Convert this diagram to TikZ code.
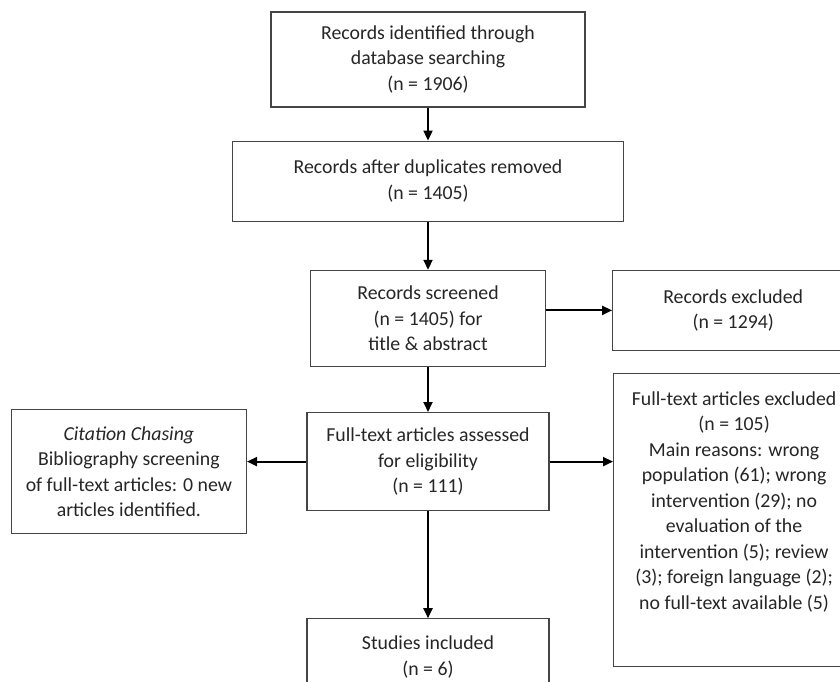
\documentclass[tikz,border=0pt]{standalone}
\usepackage{fontspec}
\setmainfont{Carlito}
\usetikzlibrary{arrows.meta,positioning}
\definecolor{boxgray}{HTML}{454545}
\definecolor{textgray}{HTML}{262626}

\begin{document}
\begin{tikzpicture}[
  x=1pt, y=-1pt,
  box/.style={draw=boxgray, line width=1.2pt, fill=white, align=center, text=textgray, inner sep=4pt, font=\fontsize{19.8}{25.5}\selectfont},
  edge/.style={-{Triangle[length=10pt,width=9pt]}, line width=1.9pt}
]
\useasboundingbox (0,0) rectangle (840,682);
\clip (0,0) rectangle (840,682);
\node[box, minimum width=314pt, minimum height=95pt] (ident) at (428,59.5) {Records identified through\\database searching\\(n = 1906)};
\node[box, minimum width=391pt, minimum height=80pt, below=33pt of ident] (dup) {Records after duplicates removed\\(n = 1405)};
\node[box, minimum width=235pt, minimum height=96pt, below=48pt of dup] (screen) {Records screened\\(n = 1405) for\\title \& abstract};
\node[box, minimum width=241pt, minimum height=80pt, right=66pt of screen, yshift=8pt] (excl) {Records excluded\\(n = 1294)};
\node[box, minimum width=242pt, minimum height=98pt, below=45pt of screen] (assess) {Full-text articles assessed\\for eligibility\\(n = 111)};
\node[box, minimum width=242pt, minimum height=76pt, below=107pt of assess] (studies) {Studies included\\(n = 6)};
\node[box, minimum width=235pt, minimum height=124pt, anchor=north east] (cite) at (247,409) {\textit{Citation Chasing}\\Bibliography screening\\of full-text articles: 0 new\\articles identified.};
\node[box, anchor=north west] (ftexcl) at (613,373) {\parbox[t][285pt][t]{233pt}{\centering\vspace*{14pt}Full-text articles excluded\\(n = 105)\\Main reasons: wrong\\population (61); wrong\\intervention (29); no\\evaluation of the\\intervention (5); review\\(3); foreign language (2);\\no full-text available (5)}};
\draw[edge] (ident) -- (dup);
\draw[edge] (dup) -- (screen);
\draw[edge] (screen.east |- excl) -- (excl);
\draw[edge] (screen) -- (assess);
\draw[edge] (assess.west) -- (assess.west -| cite.east);
\draw[edge] (assess.east) -- (assess.east -| ftexcl.west);
\draw[edge] (assess) -- (studies);
\end{tikzpicture}
\end{document}
